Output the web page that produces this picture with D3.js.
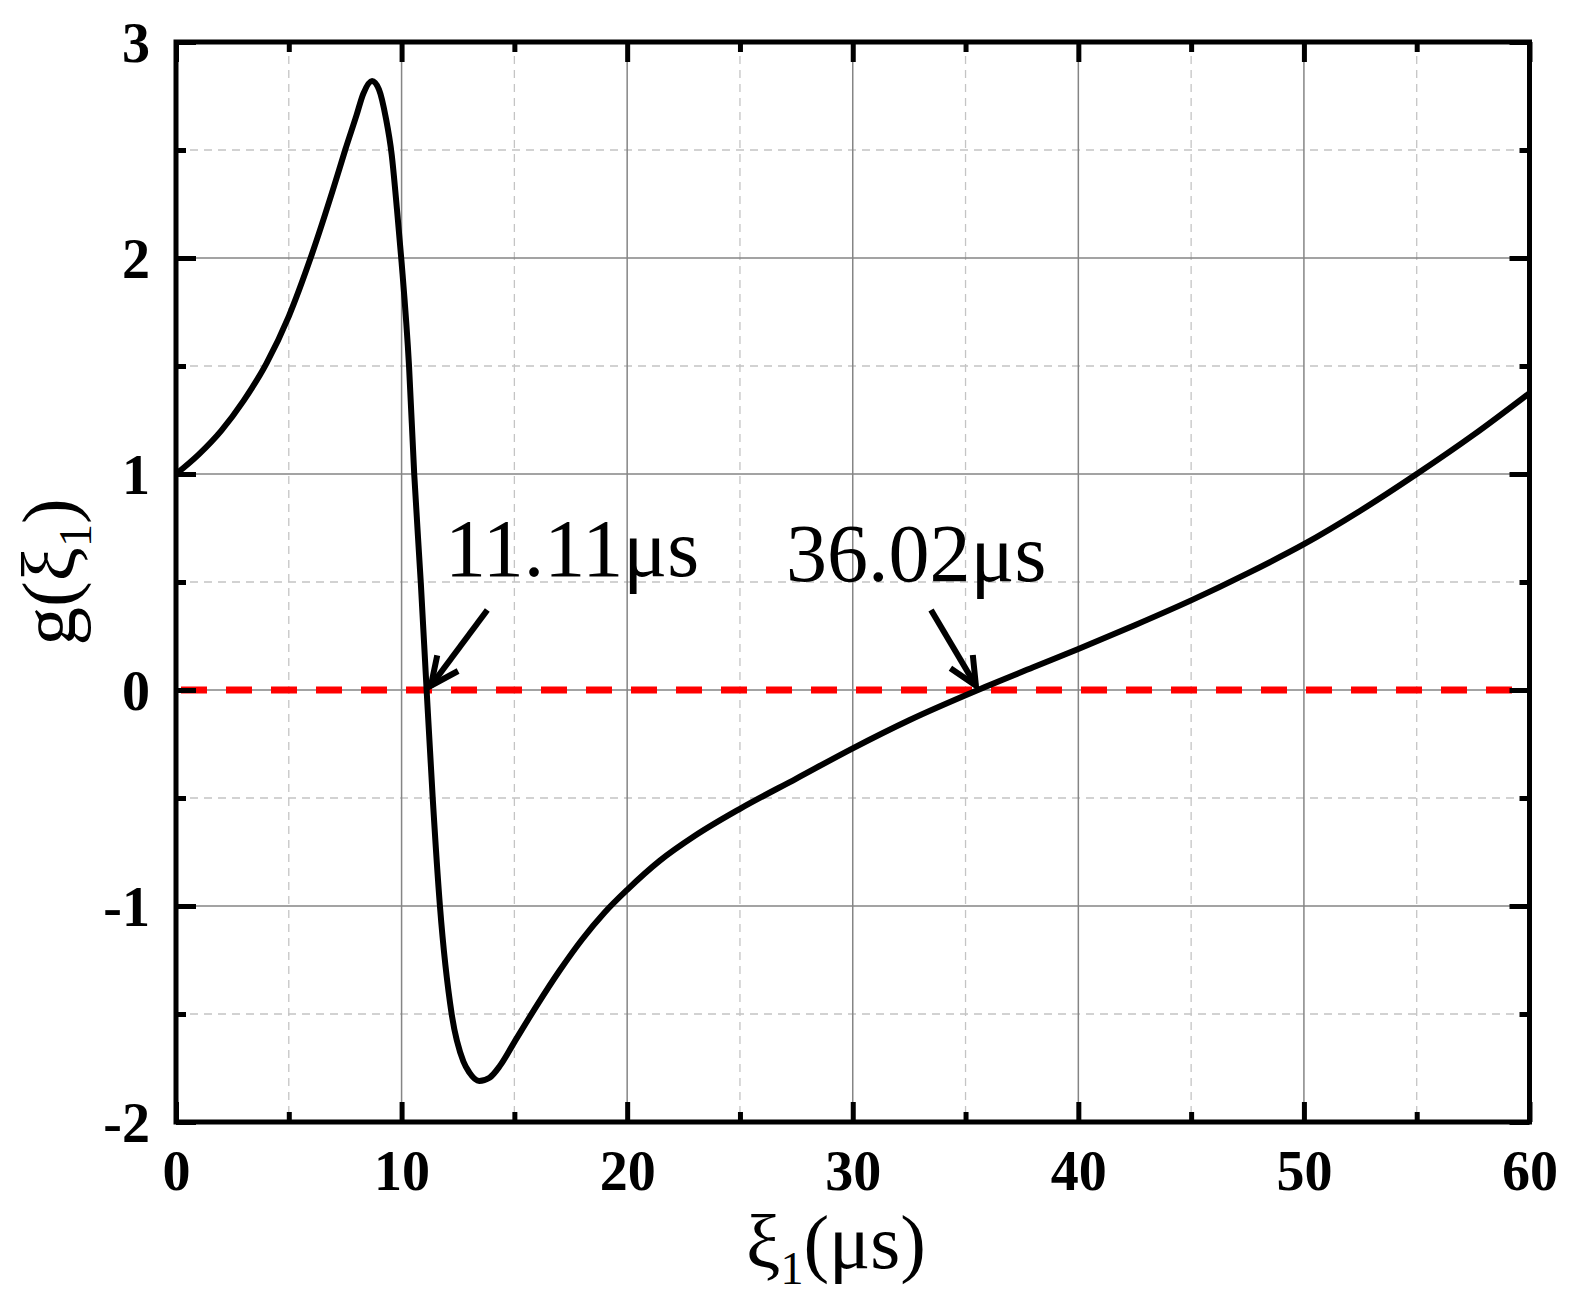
<!DOCTYPE html>
<html>
<head>
<meta charset="utf-8">
<script src="https://cdn.jsdelivr.net/npm/d3@7"></script>
<style>
  body { margin: 0; background: #fff; }
  svg { display: block; }
</style>
</head>
<body>
<svg id="chart" width="1576" height="1312"></svg>
<script>
// values
var xi = [0, 1, 2, 3, 4, 5, 6, 7, 7.5, 8, 8.3, 8.69, 9.0, 9.3, 9.56, 9.8, 10.0, 10.33, 10.56, 10.85, 11.11,
  11.38, 11.7, 12.22, 12.74, 13.0, 13.44, 13.9, 14.36, 15, 16, 17, 18, 19, 20, 21.45, 23, 25, 27.5,
  30, 32.5, 35.55, 38, 40, 42.5, 45, 47.5, 50, 52.5, 55, 57.5, 60];
var g = [1.0, 1.09, 1.2, 1.34, 1.51, 1.73, 2.01, 2.33, 2.5, 2.66, 2.76, 2.82, 2.78, 2.65, 2.48, 2.22, 1.98, 1.5, 1.0, 0.5, 0,
  -0.5, -1.0, -1.5, -1.72, -1.77, -1.81, -1.795, -1.74, -1.63, -1.46, -1.3, -1.155, -1.03, -0.925, -0.79, -0.675, -0.55, -0.41,
  -0.27, -0.14, 0, 0.105, 0.19, 0.3, 0.415, 0.54, 0.675, 0.83, 1.0, 1.18, 1.375];

var xMajor = [0, 10, 20, 30, 40, 50, 60];
var xMinor = [5, 15, 25, 35, 45, 55];
var yMajor = [-2, -1, 0, 1, 2, 3];
var yMinor = [-1.5, -0.5, 0.5, 1.5, 2.5];

// annotations (data units)
var noteText = ['11.11\u03bcs', '36.02\u03bcs'];
var noteAt = [[11.92, 0.528], [27.04, 0.505]];
var arrowFrom = [[13.8, 0.37], [33.47, 0.37]];
var arrowTo = [[11.3, 0.02], [35.46, 0.02]];

draw();

function draw() {
  var svg = d3.select('#chart');
  var pLeft = 176, pRight = 1529.5, pTop = 42, pBottom = 1122;

  var x = d3.scaleLinear().domain([0, 60]).range([pLeft, pRight]);
  var y = d3.scaleLinear().domain([-2, 3]).range([pBottom, pTop]);

  var serif = '"Liberation Serif", "Times New Roman", serif';

  // grid
  var grid = svg.append('g');
  grid.selectAll('.vmin').data(xMinor).enter().append('line')
    .attr('x1', d => x(d)).attr('x2', d => x(d)).attr('y1', pTop).attr('y2', pBottom)
    .attr('stroke', '#c4c4c4').attr('stroke-width', 1.3).attr('stroke-dasharray', '8,6');
  grid.selectAll('.hmin').data(yMinor).enter().append('line')
    .attr('x1', pLeft).attr('x2', pRight).attr('y1', d => y(d)).attr('y2', d => y(d))
    .attr('stroke', '#c4c4c4').attr('stroke-width', 1.3).attr('stroke-dasharray', '8,6');
  grid.selectAll('.vmaj').data(xMajor.slice(1, -1)).enter().append('line')
    .attr('x1', d => x(d)).attr('x2', d => x(d)).attr('y1', pTop).attr('y2', pBottom)
    .attr('stroke', '#858585').attr('stroke-width', 1.5);
  grid.selectAll('.hmaj').data(yMajor.slice(1, -1)).enter().append('line')
    .attr('x1', pLeft).attr('x2', pRight).attr('y1', d => y(d)).attr('y2', d => y(d))
    .attr('stroke', '#858585').attr('stroke-width', 1.5);

  // red zero line
  svg.append('line')
    .attr('x1', x(0)).attr('x2', x(60)).attr('y1', y(0)).attr('y2', y(0))
    .attr('stroke', '#ff0000').attr('stroke-width', 7)
    .attr('stroke-dasharray', '26,19').attr('stroke-dashoffset', 40);

  // curve
  var pts = xi.map((d, i) => [d, g[i]]);
  var line = d3.line().x(d => x(d[0])).y(d => y(d[1])).curve(d3.curveMonotoneX);
  svg.append('path').datum(pts)
    .attr('d', line)
    .attr('fill', 'none')
    .attr('stroke', '#000')
    .attr('stroke-width', 6)
    .attr('stroke-linejoin', 'round');

  // axes, ticks pointing inward on all four sides
  function styleAxis(sel) {
    sel.select('.domain').remove();
    sel.selectAll('.tick line').attr('stroke', '#000').attr('stroke-width', 5);
  }
  function ticks(axis, vals, size, labels) {
    return axis.tickValues(vals).tickSize(-size)
      .tickFormat(labels ? (d => String(d)) : '');
  }

  var bx = svg.append('g').attr('transform', 'translate(0,' + pBottom + ')');
  bx.append('g').call(ticks(d3.axisBottom(x), xMinor, 10, false)).call(styleAxis);
  bx.append('g').call(ticks(d3.axisBottom(x), xMajor, 20, true)).call(styleAxis)
    .selectAll('text').attr('y', 68).attr('dy', 0)
    .attr('font-family', serif).attr('font-weight', 'bold').attr('font-size', 56).attr('fill', '#000');

  var tx = svg.append('g').attr('transform', 'translate(0,' + pTop + ')');
  tx.append('g').call(ticks(d3.axisTop(x), xMinor, 10, false)).call(styleAxis);
  tx.append('g').call(ticks(d3.axisTop(x), xMajor, 20, false)).call(styleAxis);

  var ly = svg.append('g').attr('transform', 'translate(' + pLeft + ',0)');
  ly.append('g').call(ticks(d3.axisLeft(y), yMinor, 10, false)).call(styleAxis);
  ly.append('g').call(ticks(d3.axisLeft(y), yMajor, 20, true)).call(styleAxis)
    .selectAll('text').attr('x', -26).attr('dy', '0.34em')
    .attr('font-family', serif).attr('font-weight', 'bold').attr('font-size', 56).attr('fill', '#000');

  var ry = svg.append('g').attr('transform', 'translate(' + pRight + ',0)');
  ry.append('g').call(ticks(d3.axisRight(y), yMinor, 10, false)).call(styleAxis);
  ry.append('g').call(ticks(d3.axisRight(y), yMajor, 20, false)).call(styleAxis);

  // frame
  svg.append('rect')
    .attr('x', pLeft).attr('y', pTop).attr('width', pRight - pLeft).attr('height', pBottom - pTop)
    .attr('fill', 'none').attr('stroke', '#000').attr('stroke-width', 5);

  // axis titles
  var xt = svg.append('text')
    .attr('x', 836).attr('y', 1268).attr('text-anchor', 'middle')
    .attr('font-family', serif).attr('font-size', 77).attr('fill', '#000');
  xt.append('tspan').text('\u03be');
  xt.append('tspan').attr('font-size', 46).attr('dy', 16).text('1');
  xt.append('tspan').attr('dy', -16).text('(\u03bcs)');

  var yt = svg.append('text')
    .attr('transform', 'translate(75,572) rotate(-90)').attr('text-anchor', 'middle')
    .attr('font-family', serif).attr('font-size', 77).attr('fill', '#000');
  yt.append('tspan').text('g(\u03be');
  yt.append('tspan').attr('font-size', 46).attr('dy', 16).text('1');
  yt.append('tspan').attr('dy', -16).text(')');

  // annotations
  svg.append('defs').append('marker')
    .attr('id', 'head').attr('markerUnits', 'userSpaceOnUse')
    .attr('viewBox', '-36 -18 44 36').attr('refX', 0).attr('refY', 0)
    .attr('markerWidth', 44).attr('markerHeight', 36).attr('orient', 'auto')
    .append('path').attr('d', 'M-28,-13 L0,0 L-28,13')
    .attr('fill', 'none').attr('stroke', '#000').attr('stroke-width', 6);

  svg.selectAll('.arrow').data(arrowFrom).enter().append('line')
    .attr('x1', d => x(d[0])).attr('y1', d => y(d[1]))
    .attr('x2', (d, i) => x(arrowTo[i][0])).attr('y2', (d, i) => y(arrowTo[i][1]))
    .attr('stroke', '#000').attr('stroke-width', 6)
    .attr('marker-end', 'url(#head)');

  svg.selectAll('.note').data(noteText).enter().append('text')
    .attr('x', (d, i) => x(noteAt[i][0])).attr('y', (d, i) => y(noteAt[i][1]))
    .attr('font-family', serif).attr('font-size', 82).attr('fill', '#000')
    .text(d => d);
}
</script>
</body>
</html>
